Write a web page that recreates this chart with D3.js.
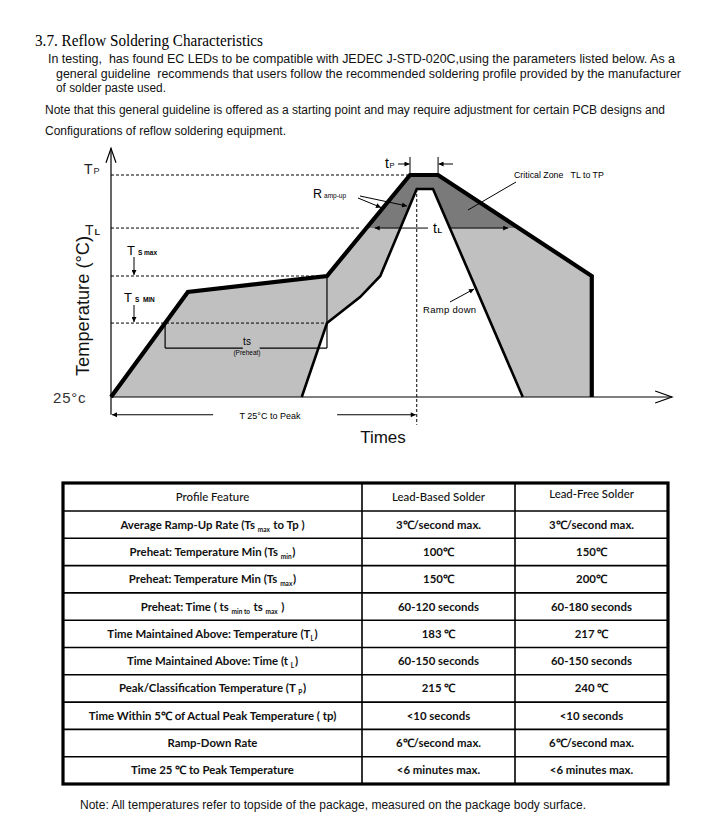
<!DOCTYPE html>
<html><head><meta charset="utf-8">
<script src="https://cdn.jsdelivr.net/npm/d3@7"></script>
<style>body{margin:0;background:#fff} svg{display:block} text{white-space:pre}</style>
</head><body>
<script>
// ================= DATA =================
const titleText = "3.7. Reflow Soldering Characteristics";
const introLines = [
  "In testing,  has found EC LEDs to be compatible with JEDEC J-STD-020C,using the parameters listed below. As a",
  "general guideline  recommends that users follow the recommended soldering profile provided by the manufacturer",
  "of solder paste used.",
  "Note that this general guideline is offered as a starting point and may require adjustment for certain PCB designs and",
  "Configurations of reflow soldering equipment."
];
const noteText = "Note: All temperatures refer to topside of the package, measured on the package body surface.";

// schematic temperature levels (0 = 25°C, 100 = Tp)
const levelKeys   = ["T25", "TsMin", "TsMax", "TL", "TP"];
const levelValues = [0, 33.3, 54.5, 76.1, 100];

// schematic time axis 0..100
const outerTime = [0, 13.7, 38.5, 53.3, 58.3, 85.7, 85.7];
const outerTemp = [0, 47.3, 54.5, 100, 100, 54.5, 0];
const innerTime = [34.0, 38.5, 44.4, 48.0, 54.5, 57.4, 73.4];
const innerTemp = [0, 33.3, 45.0, 54.5, 93.7, 93.7, 0];

const tableHeader = ["Profile Feature", "Lead-Based Solder", "Lead-Free Solder"];
const features = [
  "Average Ramp-Up Rate (Ts {max} to Tp )",
  "Preheat: Temperature Min (Ts {min})",
  "Preheat: Temperature Min (Ts {max})",
  "Preheat: Time ( ts {min to} ts {max} )",
  "Time Maintained Above: Temperature (T{L})",
  "Time Maintained Above: Time (t {L})",
  "Peak/Classification Temperature (T {P})",
  "Time Within 5℃ of Actual Peak Temperature ( tp)",
  "Ramp-Down Rate",
  "Time 25 ℃ to Peak Temperature"
];
const leadBased = ["3℃/second max.", "100℃", "150℃", "60-120 seconds", "183 ℃", "60-150 seconds", "215 ℃", "<10 seconds", "6℃/second max.", "<6 minutes max."];
const leadFree  = ["3℃/second max.", "150℃", "200℃", "60-180 seconds", "217 ℃", "60-150 seconds", "240 ℃", "<10 seconds", "6℃/second max.", "<6 minutes max."];

// ================= DRAW =================
const W = 718, H = 831;
const svg = d3.select("body").append("svg").attr("width", W).attr("height", H);
const SANS = "'Liberation Sans', Arial, sans-serif";
const NARROW = "'Liberation Sans Narrow', 'Liberation Sans', Arial, sans-serif";

// title & intro
svg.append("text").attr("x", 35).attr("y", 46)
  .attr("font-family", "'Liberation Serif', 'Times New Roman', serif").attr("font-size", 17)
  .attr("textLength", 228).attr("lengthAdjust", "spacingAndGlyphs").text(titleText);

const introPos = [[48, 63, 627], [56, 78, 625], [56, 92, 110], [45, 114, 620], [45, 135, 241]];
introLines.forEach((s, i) => {
  svg.append("text").attr("x", introPos[i][0]).attr("y", introPos[i][1])
    .attr("font-family", NARROW).attr("font-size", 12.5).attr("fill", "#111")
    .attr("textLength", introPos[i][2]).attr("lengthAdjust", "spacingAndGlyphs").text(s);
});

// scales
const x = d3.scaleLinear().domain([0, 100]).range([111, 672]);
const y = d3.scaleLinear().domain([0, 100]).range([397, 175]);
const L = {}; levelKeys.forEach((k, i) => L[k] = levelValues[i]);

// markers
const defs = svg.append("defs");
defs.append("marker").attr("id", "arr").attr("viewBox", "0 0 10 10").attr("refX", 10).attr("refY", 5)
  .attr("markerWidth", 7).attr("markerHeight", 5).attr("markerUnits", "userSpaceOnUse").attr("orient", "auto")
  .append("path").attr("d", "M0,0L10,5L0,10Z").attr("fill", "#000");
defs.append("clipPath").attr("id", "crit").append("rect")
  .attr("x", 0).attr("y", 0).attr("width", W).attr("height", y(L.TL));

const line = d3.line();
const outerPts = outerTime.map((t, i) => [x(t), y(outerTemp[i])]);
const innerPts = innerTime.map((t, i) => [x(t), y(innerTemp[i])]);
const areaPts = outerPts.concat(innerPts.slice().reverse());

const g = svg.append("g");
g.append("path").attr("d", line(areaPts) + "Z").attr("fill", "#c0c0c0");
g.append("path").attr("d", line(areaPts) + "Z").attr("fill", "#7a7a7a").attr("clip-path", "url(#crit)");

// dashed level lines
const dash = (x1, y1, x2, y2) => g.append("line").attr("x1", x1).attr("y1", y1).attr("x2", x2).attr("y2", y2)
  .attr("stroke", "#000").attr("stroke-width", 1).attr("stroke-dasharray", "3,2");
dash(x(0), y(L.TP), x(53.3), y(L.TP));
dash(x(0), y(L.TL), x(44.5), y(L.TL));
dash(x(0), y(L.TsMax), x(38.5), y(L.TsMax));
dash(x(0), y(L.TsMin), x(38.5), y(L.TsMin));
dash(x(54.5), y(93.7), x(54.5), y(-12.5));

// solid helper
const seg = (x1, y1, x2, y2, w, arrow) => {
  const l = g.append("line").attr("x1", x1).attr("y1", y1).attr("x2", x2).attr("y2", y2)
    .attr("stroke", "#000").attr("stroke-width", w || 1);
  if (arrow) l.attr("marker-end", "url(#arr)");
  return l;
};

// preheat bracket
const tsStart = outerTime[1] * (L.TsMin / outerTemp[1]);
seg(x(tsStart), y(L.TsMin), x(tsStart), y(L.TsMin) + 25, 1.2);
seg(x(38.5), y(L.TsMax), x(38.5), y(L.TsMin) + 25, 1.2);
seg(x(tsStart), y(L.TsMin) + 25, x(23.5), y(L.TsMin) + 25, 1.2);
seg(x(26.5), y(L.TsMin) + 25, x(38.5), y(L.TsMin) + 25, 1.2);

// profile lines
g.append("path").attr("d", line(innerPts)).attr("fill", "none").attr("stroke", "#000")
  .attr("stroke-width", 2.6).attr("stroke-linejoin", "miter");
g.append("path").attr("d", line(outerPts)).attr("fill", "none").attr("stroke", "#000")
  .attr("stroke-width", 4.2).attr("stroke-linejoin", "miter");

// axes
g.append("line").attr("x1", x(0)).attr("y1", y(-8)).attr("x2", x(0)).attr("y2", y(112))
  .attr("stroke", "#000").attr("stroke-width", 1.2);
g.append("line").attr("x1", x(0)).attr("y1", y(0)).attr("x2", x(100)).attr("y2", y(0))
  .attr("stroke", "#000").attr("stroke-width", 1.2);
g.append("path").attr("d", line([[x(0) - 5, y(105.5)], [x(0), y(112)], [x(0) + 5, y(105.5)]]))
  .attr("fill", "none").attr("stroke", "#000").attr("stroke-width", 1.2);
g.append("path").attr("d", line([[x(97), y(0) + 6], [x(100), y(0)], [x(97), y(0) - 6]]))
  .attr("fill", "none").attr("stroke", "#000").attr("stroke-width", 1.2);

// T 25°C to Peak
const yb = y(-8);
seg(x(18.2), yb, x(0) + 1, yb, 1, true);
seg(x(40.3), yb, x(54.5) - 1, yb, 1, true);

// tL arrow
seg(x(56.5), y(L.TL), x(47.0), y(L.TL), 1, true);
seg(x(60.5), y(L.TL), x(70.8), y(L.TL), 1, true);

// tP
seg(x(53.3), 157, x(53.3), 173, 1);
seg(x(58.3), 157, x(58.3), 173, 1);
seg(398, 164, x(53.3) - 0.5, 164, 1, true);
seg(453, 164, x(58.3) + 0.5, 164, 1, true);

// Ts max / min arrows
seg(134, 257, 134, y(L.TsMax) - 1, 1, true);
seg(134, 305, 134, y(L.TsMin) - 1, 1, true);

// ramp-up leaders
seg(358, 198, 381, 207.5, 1, true);
seg(360, 196, 407, 206, 1, true);
// critical zone leader
seg(516, 182, 468, 210, 1);
// ramp down leader
seg(450, 302, 474, 289, 1, true);

// text helpers
const txt = (xx, yy, s, size, opts = {}) => {
  const t = svg.append("text").attr("x", xx).attr("y", yy).attr("font-family", opts.family || SANS)
    .attr("font-size", size).attr("fill", opts.fill || "#000").text(s);
  if (opts.anchor) t.attr("text-anchor", opts.anchor);
  if (opts.weight) t.attr("font-weight", opts.weight);
  return t;
};
const subLabel = (xx, yy, main, sub, size, subSize, opts = {}) => {
  const t = svg.append("text").attr("x", xx).attr("y", yy).attr("font-family", SANS)
    .attr("font-size", size).attr("fill", opts.fill || "#000");
  t.append("tspan").text(main);
  t.append("tspan").attr("font-size", subSize).attr("font-weight", opts.subWeight || null)
    .attr("dx", opts.dx || 1).attr("dy", opts.dy || 0).text(sub);
  return t;
};

subLabel(84, y(L.TP) - 1, "T", "P", 14, 9, { fill: "#222" });
subLabel(85, y(L.TL) + 7, "T", "L", 14, 9, { fill: "#222", subWeight: "bold" });
txt(53, 403, "25°c", 15, { fill: "#333" }).attr("letter-spacing", 0.8);
subLabel(127, 255, "T", "S max", 13, 6.5, { subWeight: "bold", dx: 3 });
subLabel(124, 302, "T", "S  MIN", 13, 6.5, { subWeight: "bold", dx: 3 });
txt(247, 345, "ts", 10, { anchor: "middle" });
txt(247, 355, "(Preheat)", 6.5, { anchor: "middle" });
txt(270, 419, "T 25°C to Peak", 9, { anchor: "middle" });
txt(423, 313, "Ramp down", 9.5).attr("letter-spacing", 0.3);
txt(514, 178, "Critical Zone   TL to TP", 8.8);
subLabel(313, 198, "R", "amp-up", 12.5, 6.5, { dx: 2 });
subLabel(385, 168, "t", "P", 14, 7.5, { dx: 0.5 });
subLabel(433, 233, "t", "L", 14, 7.5, { dx: 0.5, subWeight: "bold" });
svg.append("text").attr("transform", "translate(89,306) rotate(-90)").attr("text-anchor", "middle")
  .attr("font-family", SANS).attr("font-size", 19).attr("fill", "#111")
  .attr("textLength", 140).attr("lengthAdjust", "spacingAndGlyphs").text("Temperature (°C)");
txt(383, 443, "Times", 17, { anchor: "middle", fill: "#111" });

// ================= TABLE =================
const colX = [63, 362, 515, 668];
const tTop = 483, headH = 28, rowH = 27.3;
const nRows = features.length;
const tBottom = tTop + headH + rowH * nRows;
const tg = svg.append("g");
for (let i = 0; i < nRows; i++) {
  const yy = tTop + headH + rowH * i;
  tg.append("line").attr("x1", colX[0]).attr("x2", colX[3]).attr("y1", yy).attr("y2", yy)
    .attr("stroke", "#000").attr("stroke-width", 1.6);
}
[1, 2].forEach(c => tg.append("line").attr("x1", colX[c]).attr("x2", colX[c]).attr("y1", tTop).attr("y2", tBottom)
  .attr("stroke", "#000").attr("stroke-width", 1.6));
tg.append("rect").attr("x", colX[0]).attr("y", tTop).attr("width", colX[3] - colX[0]).attr("height", tBottom - tTop)
  .attr("fill", "none").attr("stroke", "#000").attr("stroke-width", 3.2);

const TF = "Lato, 'Open Sans', sans-serif";
const cell = (cx, cy, s, weight) => {
  const t = tg.append("text").attr("x", cx).attr("y", cy).attr("text-anchor", "middle")
    .attr("font-family", TF).attr("font-size", 11.4).attr("font-weight", weight).attr("fill", "#111");
  const parts = s.split(/(\{[^}]*\})/).filter(p => p.length);
  parts.forEach(p => {
    if (p[0] === "{") {
      t.append("tspan").attr("font-size", 6.5).attr("dy", 3).text(p.slice(1, -1));
      t.append("tspan").attr("dy", -3).text("\u200A");
    } else t.append("tspan").text(p);
  });
  return t;
};
const cxs = [0, 1, 2].map(c => (colX[c] + colX[c + 1]) / 2);
cell(cxs[0], tTop + 18, tableHeader[0], 500);
cell(cxs[1], tTop + 18, tableHeader[1], 500);
cell(cxs[2], tTop + 15, tableHeader[2], 500);
features.forEach((f, i) => {
  const cy = tTop + headH + rowH * i + rowH / 2 + 4;
  cell(cxs[0], cy, f, 700);
  cell(cxs[1], cy, leadBased[i], 700);
  cell(cxs[2], cy, leadFree[i], 700);
});

svg.append("text").attr("x", 80).attr("y", 809).attr("font-family", NARROW).attr("font-size", 12.5)
  .attr("fill", "#111").attr("textLength", 506).attr("lengthAdjust", "spacingAndGlyphs").text(noteText);
</script>
</body></html>
